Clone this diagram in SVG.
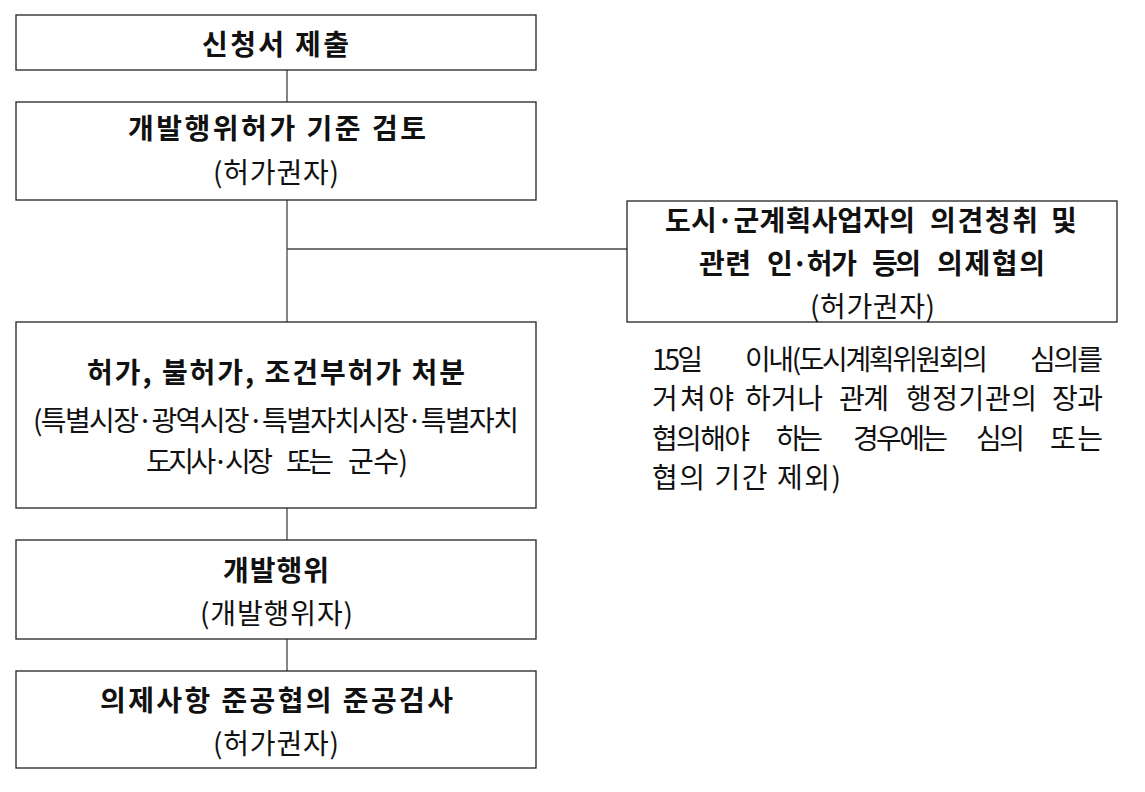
<svg xmlns="http://www.w3.org/2000/svg" width="1145" height="792" viewBox="0 0 1145 792">
<style>
.box{fill:#fff;stroke:#222;stroke-width:1.3}
.b{font-family:"Noto Sans CJK KR","Noto Sans",sans-serif;font-weight:bold;font-size:28px;fill:#111}
.r{font-family:"Noto Sans CJK KR","Noto Sans",sans-serif;font-size:28px;fill:#111}
.t{font-family:"Noto Sans CJK KR","Noto Sans",sans-serif;font-size:28px;fill:#111}
.c{stroke:#444;stroke-width:1.3;fill:none}
</style>
<rect width="1145" height="792" fill="#fff"/>
<g id="connectors">
<line class="c" x1="287" y1="70" x2="287" y2="102"/>
<line class="c" x1="287" y1="200" x2="287" y2="322"/>
<line class="c" x1="287" y1="249" x2="627" y2="249"/>
<line class="c" x1="287" y1="508" x2="287" y2="540"/>
<line class="c" x1="287" y1="639" x2="287" y2="671"/>
</g>
<g id="n1">
<rect class="box" x="16" y="15" width="520" height="55"/>
<text class="b" x="202" y="55" textLength="147">신청서 제출</text>
</g>
<g id="n2">
<rect class="box" x="16" y="102" width="520" height="98"/>
<text class="b" x="128" y="139" textLength="298">개발행위허가 기준 검토</text>
<text class="r" x="213" y="183" textLength="126">(허가권자)</text>
</g>
<g id="n3">
<rect class="box" x="16" y="322" width="520" height="186"/>
<text class="b" x="87" y="383" textLength="378">허가, 불허가, 조건부허가 처분</text>
<text class="r" x="33" y="431" textLength="486">(특별시장·광역시장·특별자치시장·특별자치</text>
<text class="r" x="146" y="472" textLength="127">도지사·시장</text>
<text class="r" x="286" y="472" textLength="48">또는</text>
<text class="r" x="348" y="472" textLength="60">군수)</text>
</g>
<g id="n4">
<rect class="box" x="627" y="201" width="490" height="121"/>
<text class="b" x="665" y="231" textLength="250">도시·군계획사업자의</text>
<text class="b" x="930" y="231" textLength="108">의견청취</text>
<text class="b" x="1051" y="231" textLength="29">및</text>
<text class="b" x="699" y="274" textLength="52">관련</text>
<text class="b" x="767" y="274" textLength="90">인·허가</text>
<text class="b" x="872" y="274" textLength="49">등의</text>
<text class="b" x="937" y="274" textLength="108">의제협의</text>
<text class="r" x="810" y="317" textLength="125">(허가권자)</text>
</g>
<g id="n5">
<rect class="box" x="16" y="540" width="520" height="99"/>
<text class="b" x="223" y="581" textLength="106">개발행위</text>
<text class="r" x="200" y="624" textLength="153">(개발행위자)</text>
</g>
<g id="n6">
<rect class="box" x="16" y="671" width="520" height="97"/>
<text class="b" x="100" y="711" textLength="353">의제사항 준공협의 준공검사</text>
<text class="r" x="213" y="754" textLength="126">(허가권자)</text>
</g>
<g id="note">
<text class="t" x="652" y="370" textLength="51">15일</text>
<text class="t" x="745" y="370" textLength="243">이내(도시계획위원회의</text>
<text class="t" x="1030" y="370" textLength="73">심의를</text>
<text class="t" x="652" y="409" textLength="82">거쳐야</text>
<text class="t" x="745" y="409" textLength="78">하거나</text>
<text class="t" x="839" y="409" textLength="50">관계</text>
<text class="t" x="906" y="409" textLength="131">행정기관의</text>
<text class="t" x="1052" y="409" textLength="51">장과</text>
<text class="t" x="652" y="449" textLength="98">협의해야</text>
<text class="t" x="776" y="449" textLength="47">하는</text>
<text class="t" x="853" y="449" textLength="95">경우에는</text>
<text class="t" x="976" y="449" textLength="49">심의</text>
<text class="t" x="1050" y="449" textLength="53">또는</text>
<text class="t" x="652" y="488" textLength="189">협의 기간 제외)</text>
</g>
</svg>
